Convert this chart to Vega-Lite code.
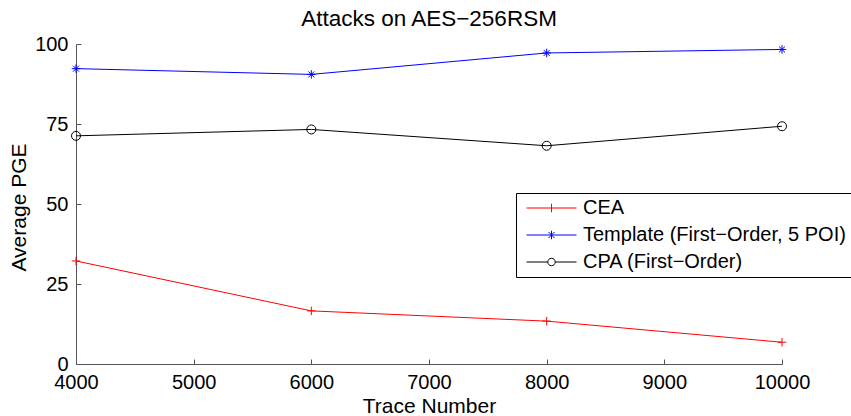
{
  "$schema": "https://vega.github.io/schema/vega-lite/v6.json",
  "width": 706,
  "height": 320,
  "autosize": {"type": "none"},
  "padding": {"left": 76, "top": 44, "right": 69, "bottom": 52},
  "background": "white",
  "title": {"text": "Attacks on AES−256RSM", "fontSize": 22.5, "font": "Liberation Sans", "fontWeight": "normal", "anchor": "middle", "offset": 4, "color": "black"},
  "data": {"values": [
    {"trace": 4000, "pge": 32.2, "series": "CEA"},
    {"trace": 6000, "pge": 16.6, "series": "CEA"},
    {"trace": 8000, "pge": 13.4, "series": "CEA"},
    {"trace": 10000, "pge": 6.8, "series": "CEA"},
    {"trace": 4000, "pge": 92.3, "series": "Template (First−Order, 5 POI)"},
    {"trace": 6000, "pge": 90.5, "series": "Template (First−Order, 5 POI)"},
    {"trace": 8000, "pge": 97.2, "series": "Template (First−Order, 5 POI)"},
    {"trace": 10000, "pge": 98.3, "series": "Template (First−Order, 5 POI)"},
    {"trace": 4000, "pge": 71.3, "series": "CPA (First−Order)"},
    {"trace": 6000, "pge": 73.3, "series": "CPA (First−Order)"},
    {"trace": 8000, "pge": 68.2, "series": "CPA (First−Order)"},
    {"trace": 10000, "pge": 74.3, "series": "CPA (First−Order)"}
  ]},
  "config": {
    "view": {"stroke": null},
    "font": "Liberation Sans",
    "axis": {"grid": false, "domainColor": "#555555", "tickColor": "#555555", "domainWidth": 1, "tickWidth": 1, "tickSize": -5, "labelFontSize": 20, "labelColor": "black", "titleFontSize": 21, "titleFontWeight": "normal", "titleColor": "black", "labelFlush": false, "labelOverlap": false}
  },
  "encoding": {
    "x": {"field": "trace", "type": "quantitative", "scale": {"domain": [4000, 10000], "nice": false, "zero": false},
      "axis": {"title": "Trace Number", "values": [4000, 5000, 6000, 7000, 8000, 9000, 10000], "format": "d", "labelBaseline": "alphabetic", "labelPadding": 29, "titleBaseline": "alphabetic", "titleY": 48}},
    "y": {"field": "pge", "type": "quantitative", "scale": {"domain": [0, 100], "nice": false},
      "axis": {"title": "Average PGE", "values": [0, 25, 50, 75, 100], "labelPadding": 13, "titleBaseline": "alphabetic", "titleX": -51, "titleY": 163}}
  },
  "layer": [
    {
      "transform": [{"filter": {"field": "series", "equal": "CEA"}}],
      "mark": {"type": "line", "strokeWidth": 1, "color": "#ff0000"}
    },
    {
      "transform": [{"filter": {"field": "series", "equal": "Template (First−Order, 5 POI)"}}],
      "mark": {"type": "line", "strokeWidth": 1, "color": "#0000ff"}
    },
    {
      "transform": [{"filter": {"field": "series", "equal": "CPA (First−Order)"}}],
      "mark": {"type": "line", "strokeWidth": 1, "color": "#000000"}
    },
    {
      "transform": [{"filter": {"field": "series", "equal": "CEA"}}],
      "mark": {"type": "point", "shape": "M-1,0H1M0,-1V1", "size": 72, "filled": false, "strokeWidth": 1, "color": "#ff0000", "opacity": 1}
    },
    {
      "transform": [{"filter": {"field": "series", "equal": "Template (First−Order, 5 POI)"}}],
      "mark": {"type": "point", "shape": "M-1,0H1M0,-1V1M-0.7,-0.7L0.7,0.7M-0.7,0.7L0.7,-0.7", "size": 72, "filled": false, "strokeWidth": 1, "color": "#0000ff", "opacity": 1}
    },
    {
      "transform": [{"filter": {"field": "series", "equal": "CPA (First−Order)"}}],
      "mark": {"type": "point", "shape": "M-1,0A1,1,0,1,1,1,0A1,1,0,1,1,-1,0Z", "size": 81, "filled": false, "strokeWidth": 1, "color": "#000000", "opacity": 1}
    },
    {
      "mark": {"type": "point", "filled": false, "opacity": 0},
      "encoding": {
        "color": {"field": "series", "type": "nominal", "scale": {"domain": ["CEA", "Template (First−Order, 5 POI)", "CPA (First−Order)"], "range": ["#ff0000", "#0000ff", "#000000"]},
          "legend": {"title": null, "orient": "none", "legendX": 440, "legendY": 149, "strokeColor": "black", "fillColor": "white", "padding": 5, "labelFontSize": 20, "labelFont": "Liberation Sans", "labelColor": "black", "labelLimit": 500, "clipHeight": 20, "rowPadding": 7, "symbolOffset": 5, "labelOffset": 6, "symbolSize": 2500, "symbolStrokeWidth": 1, "symbolOpacity": 1}},
        "shape": {"field": "series", "type": "nominal", "scale": {"domain": ["CEA", "Template (First−Order, 5 POI)", "CPA (First−Order)"], "range": ["M-1,0H1M0,-0.17V0.17", "M-1,0H1M0,-0.17V0.17M-0.12,-0.12L0.12,0.12M-0.12,0.12L0.12,-0.12", "M-1,0H-0.15M0.15,0H1M-0.15,0A0.15,0.15,0,1,1,0.15,0A0.15,0.15,0,1,1,-0.15,0Z"]},
          "legend": {"title": null, "orient": "none", "legendX": 440, "legendY": 149, "strokeColor": "black", "fillColor": "white", "padding": 5, "labelFontSize": 20, "labelFont": "Liberation Sans", "labelColor": "black", "labelLimit": 500, "clipHeight": 20, "rowPadding": 7, "symbolOffset": 5, "labelOffset": 6, "symbolSize": 2500, "symbolStrokeWidth": 1, "symbolOpacity": 1}}
      }
    }
  ]
}
